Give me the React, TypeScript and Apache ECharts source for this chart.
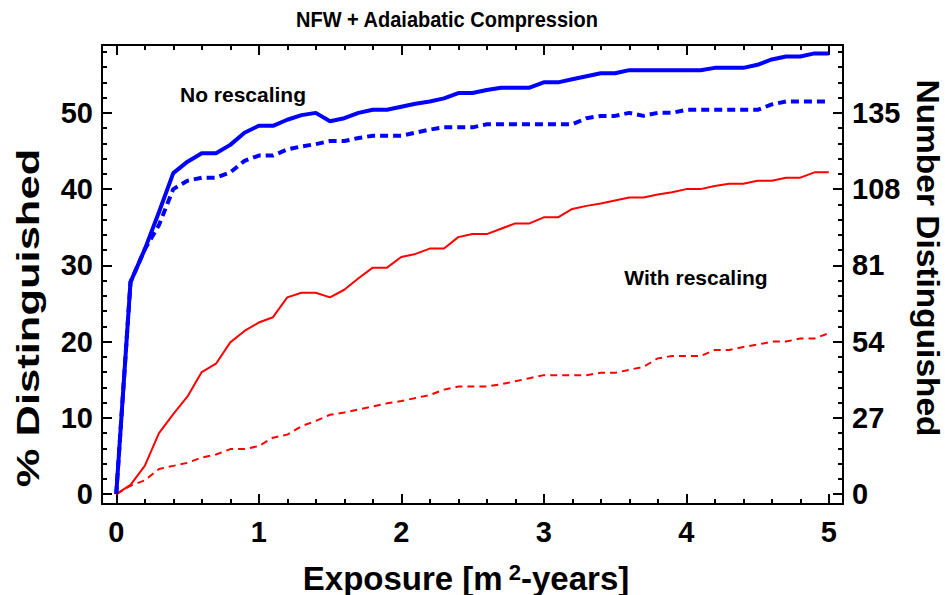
import React, { useEffect, useRef } from "react";
import * as echarts from "echarts";

const exposure = [
  0, 0.1, 0.2, 0.3, 0.4, 0.5, 0.6, 0.7, 0.8, 0.9,
  1.0, 1.1, 1.2, 1.3, 1.4, 1.5, 1.6, 1.7, 1.8, 1.9,
  2.0, 2.1, 2.2, 2.3, 2.4, 2.5, 2.6, 2.7, 2.8, 2.9,
  3.0, 3.1, 3.2, 3.3, 3.4, 3.5, 3.6, 3.7, 3.8, 3.9,
  4.0, 4.1, 4.2, 4.3, 4.4, 4.5, 4.6, 4.7, 4.8, 4.9, 5.0,
];

const noRescaleSolid = [
  0, 27.8, 32.1, 37.0, 42.1, 43.6, 44.7, 44.7, 45.8, 47.4,
  48.3, 48.3, 49.1, 49.7, 50.0, 48.9, 49.3, 50.0, 50.4, 50.4,
  50.8, 51.2, 51.5, 51.9, 52.6, 52.6, 53.0, 53.3, 53.3, 53.3,
  54.0, 54.0, 54.4, 54.8, 55.2, 55.2, 55.6, 55.6, 55.6, 55.6,
  55.6, 55.6, 55.9, 55.9, 55.9, 56.3, 57.0, 57.4, 57.4, 57.8, 57.8,
];

const noRescaleDashed = [
  0, 27.8, 32.1, 35.3, 40.0, 41.1, 41.5, 41.5, 42.2, 43.7,
  44.4, 44.4, 45.2, 45.6, 45.9, 46.3, 46.3, 46.7, 47.0, 47.0,
  47.0, 47.4, 47.8, 48.1, 48.1, 48.1, 48.5, 48.5, 48.5, 48.5,
  48.5, 48.5, 48.5, 49.3, 49.6, 49.6, 50.0, 49.6, 50.0, 50.0,
  50.4, 50.4, 50.4, 50.4, 50.4, 50.4, 51.1, 51.5, 51.5, 51.5, 51.5,
];

const rescaleSolid = [
  0, 1.2, 3.7, 8.0, 10.5, 12.8, 16.0, 17.1, 19.9, 21.4,
  22.5, 23.2, 25.8, 26.4, 26.4, 25.8, 26.8, 28.3, 29.7, 29.7,
  31.1, 31.5, 32.2, 32.2, 33.7, 34.1, 34.1, 34.8, 35.5, 35.5,
  36.3, 36.3, 37.4, 37.8, 38.1, 38.5, 38.9, 38.9, 39.3, 39.6,
  40.0, 40.0, 40.4, 40.7, 40.7, 41.1, 41.1, 41.5, 41.5, 42.2, 42.2,
];

const rescaleDashed = [
  0, 1.1, 1.8, 3.3, 3.7, 4.1, 4.8, 5.2, 5.9, 5.9,
  6.3, 7.4, 7.8, 8.9, 9.6, 10.4, 10.7, 11.1, 11.5, 11.9,
  12.2, 12.6, 13.0, 13.7, 14.1, 14.1, 14.1, 14.4, 14.8, 15.2,
  15.6, 15.6, 15.6, 15.6, 15.9, 15.9, 16.3, 16.7, 17.8, 18.1,
  18.1, 18.1, 18.9, 18.9, 19.3, 19.6, 20.0, 20.0, 20.4, 20.4, 21.1,
];

const xMajorTicks = [0, 1, 2, 3, 4, 5];
const xMinorTicks = [
  0, 0.2, 0.4, 0.6, 0.8, 1, 1.2, 1.4, 1.6, 1.8, 2, 2.2, 2.4, 2.6, 2.8,
  3, 3.2, 3.4, 3.6, 3.8, 4, 4.2, 4.4, 4.6, 4.8, 5,
];
const yLeftMajorTicks = [0, 10, 20, 30, 40, 50];
const yLeftMinorTicks = [
  0, 2, 4, 6, 8, 10, 12, 14, 16, 18, 20, 22, 24, 26, 28, 30, 32, 34, 36,
  38, 40, 42, 44, 46, 48, 50, 52, 54, 56, 58,
];
const yRightMajorTicks = [0, 27, 54, 81, 108, 135];
const yRightMinorTicks = yLeftMinorTicks.map((v) => +(v * 2.7).toFixed(2));

const TITLE = "NFW + Adaiabatic Compression";
const LABEL_NO = "No rescaling";
const LABEL_WITH = "With rescaling";
const Y_LEFT_NAME = "% Distinguished";
const Y_RIGHT_NAME = "Number Distinguished";

const FONT = "'Liberation Sans', Arial, Helvetica, sans-serif";

export default function App() {
  const ref = useRef<HTMLDivElement>(null);

  useEffect(() => {
    document.body.style.margin = "0";
    if (!ref.current) return;
    const chart = echarts.init(ref.current, undefined, { renderer: "svg" });

    const pairs = (ys: number[]) => exposure.map((x, i) => [x, ys[i]]);

    const X_MIN = -0.1;
    const X_MAX = 5.1;
    const Y_MIN = -1.3;
    const Y_MAX = 58.9;
    const R = 2.7;

    const lineBlack = { color: "#000", width: 2 };

    const tickLabel = (vals: number[], margin: number) => ({
      show: true,
      customValues: vals,
      color: "#000",
      fontFamily: FONT,
      fontWeight: "bold",
      fontSize: 29,
      margin,
    });

    const xAx = (pos: string, ticks: number[], len: number, labels: boolean, line: boolean) => ({
      type: "value",
      position: pos,
      min: X_MIN,
      max: X_MAX,
      axisLine: { show: line, onZero: false, lineStyle: lineBlack },
      axisTick: { show: true, inside: true, length: len, customValues: ticks, lineStyle: lineBlack },
      axisLabel: labels ? tickLabel(xMajorTicks, 13) : { show: false },
      splitLine: { show: false },
    });

    const yAx = (
      pos: string,
      min: number,
      max: number,
      ticks: number[],
      len: number,
      labelVals: number[] | null,
      line: boolean
    ) => ({
      type: "value",
      position: pos,
      min,
      max,
      axisLine: { show: line, onZero: false, lineStyle: lineBlack },
      axisTick: { show: true, inside: true, length: len, customValues: ticks, lineStyle: lineBlack },
      axisLabel: labelVals ? tickLabel(labelVals, 9) : { show: false },
      splitLine: { show: false },
    });

    const textStyle = (size: number) => ({
      fill: "#000",
      fontFamily: FONT,
      fontWeight: "bold",
      fontSize: size,
    });

    chart.setOption({
      animation: false,
      backgroundColor: "#fff",
      grid: { left: 102, right: 102, top: 45, bottom: 91, containLabel: false },
      xAxis: [
        xAx("bottom", xMajorTicks, 10, true, true),
        xAx("bottom", xMinorTicks, 5, false, false),
        xAx("top", xMajorTicks, 10, false, true),
        xAx("top", xMinorTicks, 5, false, false),
      ],
      yAxis: [
        yAx("left", Y_MIN, Y_MAX, yLeftMajorTicks, 10, yLeftMajorTicks, true),
        yAx("left", Y_MIN, Y_MAX, yLeftMinorTicks, 5, null, false),
        yAx("right", Y_MIN * R, Y_MAX * R, yRightMajorTicks, 10, yRightMajorTicks, true),
        yAx("right", Y_MIN * R, Y_MAX * R, yRightMinorTicks, 5, null, false),
      ],
      series: [
        {
          type: "line",
          xAxisIndex: 0,
          yAxisIndex: 0,
          data: pairs(rescaleDashed),
          showSymbol: false,
          lineStyle: { color: "#ff0000", width: 2, type: [7, 5] },
        },
        {
          type: "line",
          xAxisIndex: 0,
          yAxisIndex: 0,
          data: pairs(rescaleSolid),
          showSymbol: false,
          lineStyle: { color: "#ff0000", width: 2 },
        },
        {
          type: "line",
          xAxisIndex: 0,
          yAxisIndex: 0,
          data: pairs(noRescaleDashed),
          showSymbol: false,
          lineStyle: { color: "#0000ff", width: 4, type: [8, 5] },
        },
        {
          type: "line",
          xAxisIndex: 0,
          yAxisIndex: 0,
          data: pairs(noRescaleSolid),
          showSymbol: false,
          lineStyle: { color: "#0000ff", width: 4 },
        },
      ],
      graphic: [
        {
          type: "text",
          x: 447,
          y: 19,
          scaleY: 1.1,
          style: { ...textStyle(20), text: TITLE, align: "center", verticalAlign: "middle" },
        },
        {
          type: "text",
          x: 243,
          y: 94,
          style: { ...textStyle(21), text: LABEL_NO, align: "center", verticalAlign: "middle" },
        },
        {
          type: "text",
          x: 696,
          y: 277,
          style: { ...textStyle(21), text: LABEL_WITH, align: "center", verticalAlign: "middle" },
        },
        {
          type: "text",
          x: 466,
          y: 578,
          style: {
            ...textStyle(33),
            text: "{a|Exposure [m}{s| 2}{a|-years]}",
            align: "center",
            verticalAlign: "middle",
            rich: {
              a: { fontSize: 33, fontWeight: "bold", fontFamily: FONT, fill: "#000", verticalAlign: "bottom" },
              s: { fontSize: 22, fontWeight: "bold", fontFamily: FONT, fill: "#000", verticalAlign: "top" },
            },
          },
        },
        {
          type: "text",
          x: 28,
          y: 318,
          rotation: Math.PI / 2,
          scaleX: 1.36,
          style: { ...textStyle(32), text: Y_LEFT_NAME, align: "center", verticalAlign: "middle" },
        },
        {
          type: "text",
          x: 928,
          y: 258,
          rotation: -Math.PI / 2,
          scaleX: 1.08,
          style: { ...textStyle(31), text: Y_RIGHT_NAME, align: "center", verticalAlign: "middle" },
        },
      ],
    });

    return () => chart.dispose();
  }, []);

  return (
    <div
      ref={ref}
      style={{ position: "absolute", left: 0, top: 0, width: 945, height: 595 }}
    />
  );
}
